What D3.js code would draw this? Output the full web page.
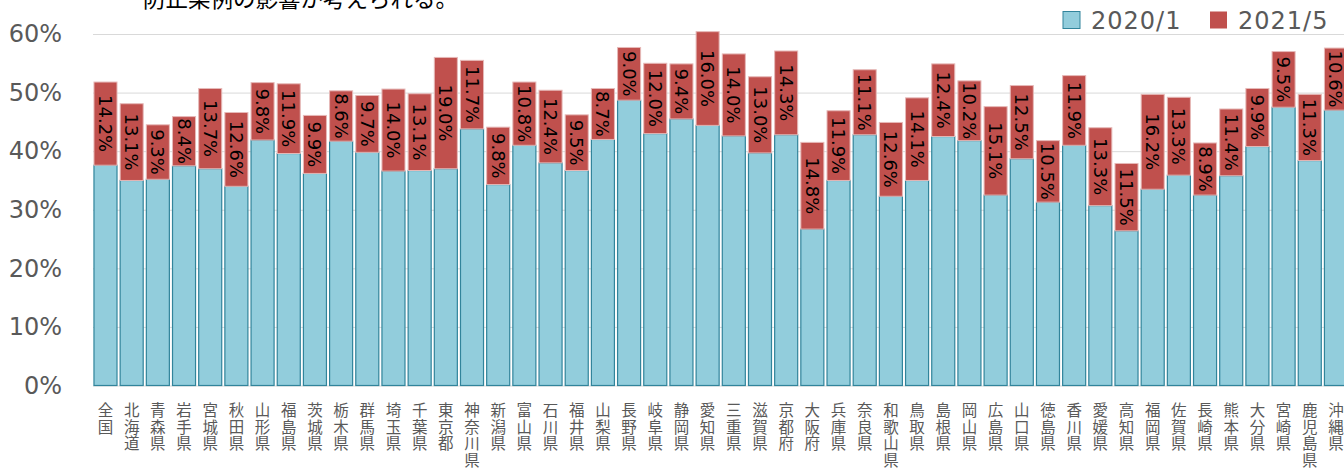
<!DOCTYPE html>
<meta charset="utf-8">
<script src="https://d3js.org/d3.v7.min.js"></script>
<style>
    body { margin: 0; background: #fff; }
    svg { display: block; }
</style>
<div id="chart"></div>
<script>

    // prefectures (全国 first)
    var prefs = ["全国","北海道","青森県","岩手県","宮城県","秋田県","山形県","福島県","茨城県","栃木県",
        "群馬県","埼玉県","千葉県","東京都","神奈川県","新潟県","富山県","石川県","福井県","山梨県",
        "長野県","岐阜県","静岡県","愛知県","三重県","滋賀県","京都府","大阪府","兵庫県","奈良県",
        "和歌山県","鳥取県","島根県","岡山県","広島県","山口県","徳島県","香川県","愛媛県","高知県",
        "福岡県","佐賀県","長崎県","熊本県","大分県","宮崎県","鹿児島県","沖縄県"];

    // 2020/1 share (%)
    var base2020 = [37.6,35.0,35.2,37.5,37.0,34.0,41.9,39.6,36.2,41.7,
        39.8,36.6,36.7,37.0,43.8,34.3,41.0,38.0,36.7,42.0,
        48.7,43.0,45.5,44.4,42.6,39.7,42.8,26.7,35.0,42.8,
        32.3,35.0,42.5,41.8,32.5,38.7,31.3,41.0,30.7,26.4,
        33.5,35.9,32.5,35.8,40.8,47.5,38.4,47.0];

    // increase up to 2021/5 (percentage points)
    var inc2021 = [14.2,13.1,9.3,8.4,13.7,12.6,9.8,11.9,9.9,8.6,
        9.7,14.0,13.1,19.0,11.7,9.8,10.8,12.4,9.5,8.7,
        9.0,12.0,9.4,16.0,14.0,13.0,14.3,14.8,11.9,11.1,
        12.6,14.1,12.4,10.2,15.1,12.5,10.5,11.9,13.3,11.5,
        16.2,13.3,8.9,11.4,9.9,9.5,11.3,10.6];

    var yTicks = [0, 10, 20, 30, 40, 50, 60];
    var seriesNames = ["2020/1", "2021/5"];

    var W = 1344, H = 468;
    var blue = "#92cddc", blueLine = "#31849b";
    var red = "#c0504d", redLine = "#e6b9b8";

    var svg = d3.select("#chart").append("svg")
        .attr("width", W).attr("height", H);

    var x = d3.scaleBand()
        .domain(prefs)
        .range([92.4, 92.4 + 48 * 26.18])
        .paddingInner(0.12)
        .paddingOuter(0.06);

    var y = d3.scaleLinear()
        .domain([0, 60])
        .range([385.5, 34]);

    // y axis + gridlines
    var yAxis = svg.append("g")
        .attr("transform", "translate(93,0)")
        .call(d3.axisLeft(y).tickValues(yTicks)
            .tickSize(-(W - 93))
            .tickPadding(31)
            .tickFormat(function (d) { return d + "%"; }));
    yAxis.select(".domain").remove();
    yAxis.selectAll("line").attr("stroke", "#d9d9d9").attr("stroke-width", 1);
    yAxis.selectAll("text")
        .attr("fill", "#595959")
        .style("font-family", "DejaVu Sans")
        .style("font-size", "24px");

    // bars
    var g = svg.append("g");
    prefs.forEach(function (p, i) {
        var b = base2020[i], t = base2020[i] + inc2021[i];
        g.append("rect")
            .attr("x", x(p))
            .attr("width", x.bandwidth())
            .attr("y", y(b))
            .attr("height", y(0) - y(b))
            .attr("fill", blue)
            .attr("stroke", blueLine)
            .attr("stroke-width", 1.2);
        g.append("rect")
            .attr("x", x(p))
            .attr("width", x.bandwidth())
            .attr("y", y(t))
            .attr("height", y(b) - y(t))
            .attr("fill", red)
            .attr("stroke", redLine)
            .attr("stroke-width", 1);
        var cx = x(p) + x.bandwidth() / 2, cy = (y(b) + y(t)) / 2;
        g.append("text")
            .attr("transform", "translate(" + cx + "," + cy + ") rotate(90)")
            .attr("text-anchor", "middle")
            .attr("dy", "0.36em")
            .style("font-family", "DejaVu Sans")
            .style("font-size", "18px")
            .attr("fill", "#000")
            .text(inc2021[i].toFixed(1) + "%");
    });

    // x labels, written vertically (one text per character)
    var xl = svg.append("g")
        .style("font-family", "Noto Sans CJK JP")
        .style("font-size", "15.5px")
        .attr("fill", "#595959");
    prefs.forEach(function (p) {
        Array.from(p).forEach(function (ch, k) {
            xl.append("text")
                .attr("text-anchor", "middle")
                .attr("x", x(p) + x.bandwidth() / 2)
                .attr("y", 416 + k * 16.6)
                .text(ch);
        });
    });

    // cut-off title line
    svg.append("text")
        .attr("x", 143).attr("y", 7)
        .style("font-family", "Noto Sans CJK JP")
        .style("font-size", "22.5px")
        .attr("fill", "#000")
        .text("防止条例の影響が考えられる。");

    // legend
    var legendX = [1063, 1210];
    var lg = svg.append("g");
    seriesNames.forEach(function (s, i) {
        lg.append("rect")
            .attr("x", legendX[i]).attr("y", 11.5)
            .attr("width", 17).attr("height", 17)
            .attr("fill", i === 0 ? blue : red)
            .attr("stroke", i === 0 ? blueLine : "none");
        lg.append("text")
            .attr("x", legendX[i] + 28).attr("y", 28.5)
            .attr("fill", "#595959")
            .style("font-family", "DejaVu Sans")
            .style("font-size", "24px")
            .style("letter-spacing", "1px")
            .text(s);
    });
</script>
